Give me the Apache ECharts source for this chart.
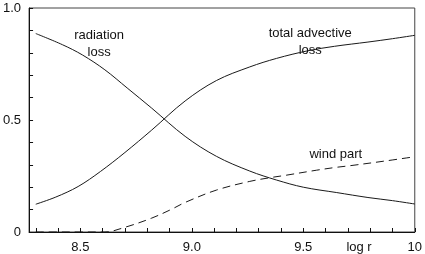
<!DOCTYPE html>
<html><head><meta charset="utf-8">
<script src="https://cdn.jsdelivr.net/npm/echarts@6/dist/echarts.min.js"></script>
<style>html,body{margin:0;padding:0;background:#fff}#c{width:425px;height:254px}</style>
</head><body><div id="c"></div>
<script>
// data (log r, fraction)
const radX = [8.30, 8.42, 8.51, 8.61, 8.71, 8.82, 8.97, 9.11, 9.26, 9.38, 9.50, 9.65, 9.79, 9.90, 10.0];
const radY = [0.886, 0.836, 0.790, 0.724, 0.643, 0.553, 0.427, 0.338, 0.272, 0.232, 0.200, 0.176, 0.154, 0.140, 0.125];
const totX = [8.30, 8.39, 8.49, 8.59, 8.70, 8.82, 8.97, 9.11, 9.26, 9.38, 9.52, 9.64, 9.79, 9.90, 10.0];
const totY = [0.124, 0.156, 0.203, 0.270, 0.355, 0.455, 0.585, 0.676, 0.737, 0.775, 0.809, 0.829, 0.848, 0.863, 0.878];
const windX = [8.30, 8.40, 8.50, 8.61, 8.70, 8.82, 8.91, 8.97, 9.11, 9.26, 9.36, 9.42, 9.56, 9.65, 9.71, 9.86, 10.0];
const windY = [0.0, 0.0, 0.0, 0.0, 0.021, 0.062, 0.102, 0.132, 0.187, 0.226, 0.244, 0.253, 0.276, 0.289, 0.296, 0.316, 0.336];
const xTicks = [8.3, 8.4, 8.5, 8.6, 8.7, 8.8, 8.9, 9.0, 9.1, 9.2, 9.3, 9.4, 9.5, 9.6, 9.7, 9.8, 9.9, 10.0];
const xLabelVals = [8.5, 9.0, 9.5, 9.75, 10.0];
const xLabelText = ['8.5', '9.0', '9.5', 'log r', '10'];
const yLabelVals = [0, 0.5, 1.0];
const yLabelText = ['0', '0.5', '1.0'];
const annotations = [
  {text: 'radiation\nloss', x: 8.584, y: 0.840},
  {text: 'total advective\nloss', x: 9.531, y: 0.849},
  {text: 'wind part', x: 9.646, y: 0.346}
];

const zip = (xs, ys) => xs.map((x, i) => [x, ys[i]]);
const font = 'Liberation Sans, Arial, Helvetica, sans-serif';
const chart = echarts.init(document.getElementById('c'), null, {renderer: 'canvas'});
const lineStyle = {color: '#1a1a1a', width: 1};
const fmt = (vals, texts) => v => { const i = vals.findIndex(t => Math.abs(t - v) < 1e-6); return i >= 0 ? texts[i] : ''; };
chart.setOption({
  animation: false,
  backgroundColor: '#fff',
  grid: {left: 26, right: 8, top: 8, bottom: 21, show: true, borderColor: '#444', borderWidth: 1},
  xAxis: {
    type: 'value', min: 8.27, max: 10,
    axisLine: {show: true, lineStyle: {color: '#111'}},
    axisTick: {show: true, inside: true, length: 4, lineStyle: {color: '#111'}, customValues: xTicks},
    axisLabel: {customValues: xLabelVals, margin: 9, color: '#111', fontSize: 13, fontFamily: font,
      formatter: fmt(xLabelVals, xLabelText)},
    splitLine: {show: false}
  },
  yAxis: {
    type: 'value', min: 0, max: 1, interval: 0.1,
    axisLine: {show: true, lineStyle: {color: '#111'}},
    axisTick: {show: true, inside: true, length: 4, lineStyle: {color: '#111'}},
    axisLabel: {customValues: yLabelVals, margin: 8, color: '#111', fontSize: 13, fontFamily: font,
      formatter: fmt(yLabelVals, yLabelText)},
    splitLine: {show: false}
  },
  series: [
    {type: 'line', data: zip(radX, radY), smooth: 0.35, showSymbol: false, lineStyle: lineStyle},
    {type: 'line', data: zip(totX, totY), smooth: 0.35, showSymbol: false, lineStyle: lineStyle},
    {type: 'line', data: zip(windX, windY), smooth: 0.35, showSymbol: false,
     lineStyle: {color: '#1a1a1a', width: 1, type: [8, 5]}}
  ]
});
chart.setOption({
  graphic: annotations.map(a => {
    const p = chart.convertToPixel({gridIndex: 0}, [a.x, a.y]);
    return {type: 'text', x: p[0], y: p[1], silent: true,
      style: {text: a.text, fill: '#111', font: '13px ' + font, align: 'center', verticalAlign: 'middle', lineHeight: 17}};
  })
});
</script>
</body></html>
